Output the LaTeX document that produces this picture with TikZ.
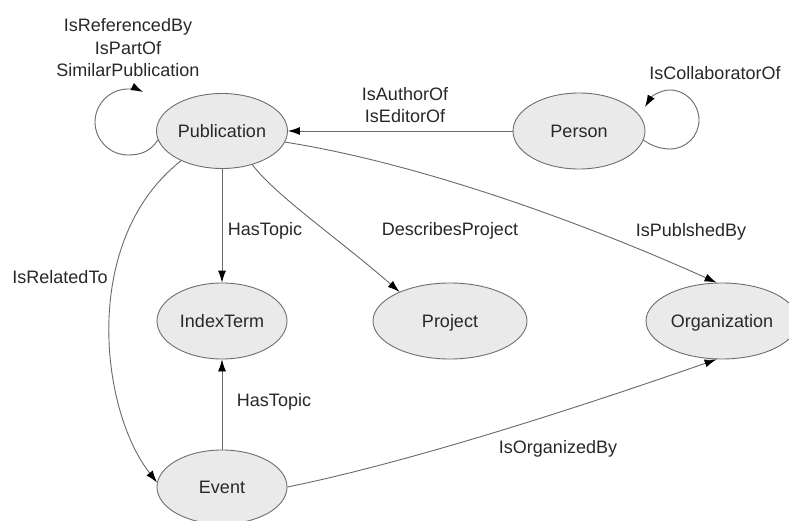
\documentclass[tikz,border=0pt]{standalone}
\usepackage{fontspec}
\setmainfont{Liberation Sans}
\usetikzlibrary{shapes.geometric,arrows.meta}
\definecolor{efill}{RGB}{234,234,234}
\definecolor{edraw}{RGB}{110,110,110}
\definecolor{lcol}{RGB}{105,105,105}
\definecolor{tcol}{RGB}{40,40,40}
\begin{document}
\begin{tikzpicture}[x=1pt,y=-1pt,
  ent/.style={ellipse,draw=edraw,fill=efill,line width=0.9pt,inner sep=0pt,
    text=tcol,font=\fontsize{18}{22}\selectfont,text height=12.5pt,text depth=0pt},
  lbl/.style={text=tcol,font=\fontsize{18}{22.5}\selectfont,inner sep=0pt,align=center},
  rel/.style={draw=lcol,line width=0.9pt,-{Latex[length=12pt,width=8pt,color=black]}}]
\useasboundingbox[fill=white] (0,0) rectangle (789,521);
% entities
\node[ent,minimum width=131pt,minimum height=75pt] (pub) at (222,131) {Publication};
\node[ent,minimum width=132pt,minimum height=76pt] (per) at (579,131) {Person};
\node[ent,minimum width=130pt,minimum height=76pt] (idx) at (222,321) {IndexTerm};
\node[ent,minimum width=154pt,minimum height=76pt] (prj) at (450,321) {Project};
\node[ent,minimum width=152pt,minimum height=76pt] (org) at (722,321) {Organization};
\node[ent,minimum width=130pt,minimum height=74pt] (evt) at (222,487) {Event};
% free ends of the self loops
\coordinate (pubLoopEnd) at (143,92);
\coordinate (perLoopEnd) at (645,107);
% self loops
\draw[rel] (pub.-172) .. controls (150,152) and (140,155) .. (128,155)
  .. controls (110,155) and (95,140) .. (95,122)
  .. controls (95,104) and (110,89) .. (128,89)
  .. controls (134,89) and (139,90) .. (pubLoopEnd);
\draw[rel] (per.-8) .. controls (650,145) and (660,149) .. (670,149)
  .. controls (686,149) and (699,136) .. (699,120)
  .. controls (699,104) and (686,90) .. (670,90)
  .. controls (660,90) and (651,97) .. (perLoopEnd);
% relations
\draw[rel] (per) -- (pub);
\draw[rel] (pub) -- (idx);
\draw[rel] (evt) -- (idx);
\draw[rel] (pub.-48) .. controls (275,195) and (340,240) .. (prj.150);
\draw[rel] (pub.-10) .. controls (430,165) and (600,230) .. (org.98);
\draw[rel] (pub.-144) .. controls (80,240) and (100,410) .. (evt.176);
\draw[rel] (evt.east) .. controls (420,460) and (600,400) .. (org.-98);
% labels
\node[lbl] (lRef) at (128,48) {IsReferencedBy\\IsPartOf\\SimilarPublication};
\node[lbl] (lAuth) at (405,105) {IsAuthorOf\\IsEditorOf};
\node[lbl] (lCol) at (715,73.5) {IsCollaboratorOf};
\node[lbl] (lHas1) at (265,230.5) {HasTopic};
\node[lbl] (lDesc) at (450,230.5) {DescribesProject};
\node[lbl] (lPubBy) at (691,231.5) {IsPublshedBy};
\node[lbl] (lRel) at (60,277.5) {IsRelatedTo};
\node[lbl] (lHas2) at (274,401.5) {HasTopic};
\node[lbl] (lOrgBy) at (558,448.5) {IsOrganizedBy};
\end{tikzpicture}
\end{document}
